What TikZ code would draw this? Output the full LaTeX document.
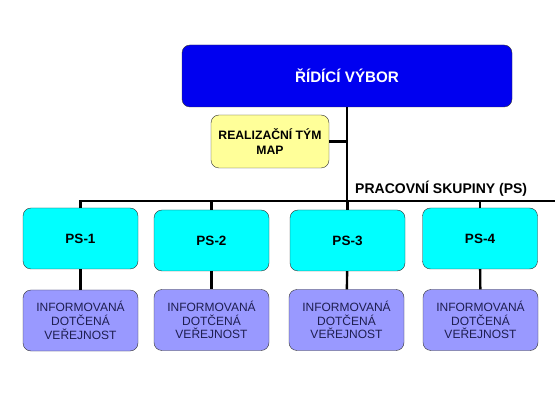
\documentclass[tikz,border=0pt]{standalone}
\usepackage{fontspec}
\setmainfont{Liberation Sans}
\definecolor{vybor}{RGB}{0,0,240}
\definecolor{tym}{RGB}{255,255,153}
\definecolor{skup}{RGB}{0,255,255}
\definecolor{verej}{RGB}{153,153,255}
\definecolor{verejtxt}{RGB}{30,30,80}
\tikzset{
  box/.style={draw=black!80,rounded corners=8pt,align=center,inner sep=0pt},
  link/.style={line width=2.4pt},
}
\begin{document}
\begin{tikzpicture}[x=1pt,y=-1pt]
\useasboundingbox (0,0) rectangle (555,409);
\node[box,fill=vybor,minimum width=330pt,minimum height=62pt,text=white,font=\bfseries\fontsize{15.2}{17}\selectfont] (rv) at (347,76) {ŘÍDÍCÍ VÝBOR};
\node[box,fill=tym,minimum width=118pt,minimum height=53pt,font=\bfseries\fontsize{12.2}{15}\selectfont] (rt) at (270,141.5) {REALIZAČNÍ TÝM\\MAP};
\node[box,fill=skup,minimum width=115pt,minimum height=61pt,font=\bfseries\fontsize{13.5}{15}\selectfont] (ps1) at (80.5,238.5) {PS-1};
\node[box,fill=skup,minimum width=115pt,minimum height=61pt,font=\bfseries\fontsize{13.5}{15}\selectfont] (ps2) at (211.5,240.5) {PS-2};
\node[box,fill=skup,minimum width=115pt,minimum height=61pt,font=\bfseries\fontsize{13.5}{15}\selectfont] (ps3) at (347.5,240.5) {PS-3};
\node[box,fill=skup,minimum width=115pt,minimum height=61pt,font=\bfseries\fontsize{13.5}{15}\selectfont] (ps4) at (480,238.5) {PS-4};
\node[box,fill=verej,minimum width=115pt,minimum height=61pt,text=verejtxt,font=\fontsize{12}{13.8}\selectfont] (iv1) at (80.5,320.5) {INFORMOVANÁ\\DOTČENÁ\\VEŘEJNOST};
\node[box,fill=verej,minimum width=115pt,minimum height=61pt,text=verejtxt,font=\fontsize{12}{13.8}\selectfont] (iv2) at (211.5,320) {INFORMOVANÁ\\DOTČENÁ\\VEŘEJNOST};
\node[box,fill=verej,minimum width=115pt,minimum height=61pt,text=verejtxt,font=\fontsize{12}{13.8}\selectfont] (iv3) at (346.5,320) {INFORMOVANÁ\\DOTČENÁ\\VEŘEJNOST};
\node[box,fill=verej,minimum width=115pt,minimum height=61pt,text=verejtxt,font=\fontsize{12}{13.8}\selectfont] (iv4) at (480.5,320) {INFORMOVANÁ\\DOTČENÁ\\VEŘEJNOST};
\node[anchor=south west,inner sep=0pt,font=\bfseries\fontsize{14}{16}\selectfont] (pl) at (355,197) {PRACOVNÍ SKUPINY (PS)};
\coordinate (br) at (555,201);
\draw[link] (ps1) |- (br);
\draw[link] (rv) -- (rv |- br);
\draw[link] (rt) -- (rt -| rv);
\draw[link] (ps2) -- (ps2 |- br);
\draw[link] (ps3) -- (ps3 |- br);
\draw[link] (ps4) -- (ps4 |- br);
\draw[link] (ps1) -- (iv1);
\draw[link] (ps2) -- (iv2);
\draw[link] (ps3) -- (iv3);
\draw[link] (ps4) -- (iv4);
\end{tikzpicture}
\end{document}
